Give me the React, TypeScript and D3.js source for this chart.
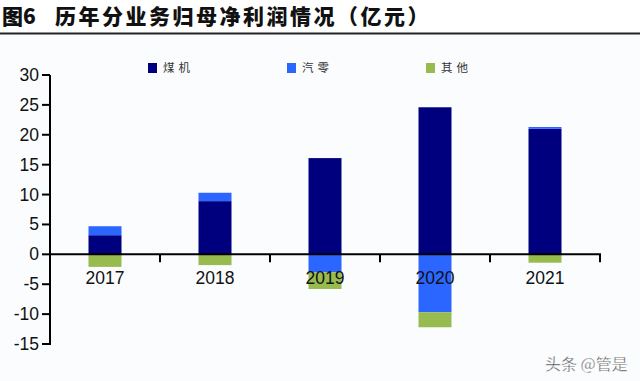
import React from "react";
import * as d3 from "d3";

const years = ["2017", "2018", "2019", "2020", "2021"];
const coal = [3.2, 8.9, 16.1, 24.6, 21.0];
const auto = [1.5, 1.4, -3.0, -9.7, 0.3];
const other = [-2.1, -1.8, -2.8, -2.5, -1.4];
const seriesNames = ["煤机", "汽零", "其他"];
const seriesColors = ["#00007f", "#2a66ff", "#98bb4f"];
const yTicks = [30, 25, 20, 15, 10, 5, 0, -5, -10, -15];

const W = 640;
const H = 381;

export default function App() {
  const x = d3.scaleBand<string>().domain(years).range([50, 600]).paddingInner(0.7).paddingOuter(0.35);
  const xb = d3.scaleBand<string>().domain(years).range([50, 600]);
  const y = d3.scaleLinear().domain([-15, 30]).range([344, 75]);

  const seriesData = [coal, auto, other];
  const rects: any[] = [];
  years.forEach((yr, i) => {
    let pos = 0;
    let neg = 0;
    seriesData.forEach((s, si) => {
      const v = s[i];
      let y0, y1;
      if (v >= 0) {
        y0 = pos;
        y1 = pos + v;
        pos = y1;
      } else {
        y0 = neg;
        y1 = neg + v;
        neg = y1;
      }
      rects.push(
        <rect
          key={yr + si}
          x={x(yr)}
          width={x.bandwidth()}
          y={y(Math.max(y0, y1))}
          height={Math.abs(y(y0) - y(y1))}
          fill={seriesColors[si]}
        />
      );
    });
  });

  const legendX = [148, 287, 426];

  return (
    <svg width={W} height={H} style={{ display: "block", position: "absolute", left: 0, top: 0, background: "#fbfcfe" }}>
      <rect x={0} y={0} width={W} height={34} fill="#ffffff" />
      <text x={2} y={24} fontFamily="'Noto Sans CJK SC', sans-serif" fontWeight="900" fontSize={21} fill="#111">
        图6
      </text>
      <text x={55} y={24} fontFamily="'Noto Sans CJK SC', sans-serif" fontWeight="900" fontSize={21} letterSpacing={2.5} fill="#111">
        历年分业务归母净利润情况（亿元）
      </text>
      <line x1={0} x2={W} y1={33.5} y2={33.5} stroke="#222" strokeWidth={2} />

      {seriesNames.map((n, i) => (
        <g key={n}>
          <rect x={legendX[i]} y={63} width={9} height={10} fill={seriesColors[i]} />
          <text
            x={legendX[i] + 15}
            y={72}
            fontFamily="'Noto Sans CJK SC', serif"
            fontSize={11.5}
            letterSpacing={4}
            fill="#333"
          >
            {n}
          </text>
        </g>
      ))}

      {rects}

      <line x1={50} x2={50} y1={75} y2={345} stroke="#000" strokeWidth={2} />
      {yTicks.map((t) => (
        <g key={t}>
          <line x1={42} x2={50} y1={y(t)} y2={y(t)} stroke="#000" strokeWidth={2} />
          <text
            x={39}
            y={y(t) + 6}
            textAnchor="end"
            fontFamily="'Liberation Sans', Arial, sans-serif"
            fontSize={17.5}
            fill="#111"
          >
            {t}
          </text>
        </g>
      ))}

      <line x1={49} x2={601} y1={y(0)} y2={y(0)} stroke="#000" strokeWidth={2} />
      {years.slice(1).concat(["end"]).map((yr, i) => {
        const xp = i < 4 ? (xb(years[i + 1]) as number) : 600;
        return <line key={yr + "t"} x1={xp} x2={xp} y1={y(0)} y2={y(0) + 8} stroke="#000" strokeWidth={2} />;
      })}
      {years.map((yr) => (
        <text
          key={yr + "l"}
          x={(xb(yr) as number) + xb.bandwidth() / 2}
          y={284}
          textAnchor="middle"
          fontFamily="'Liberation Sans', Arial, sans-serif"
          fontSize={17.5}
          fill="#111"
        >
          {yr}
        </text>
      ))}

      <text x={545} y={370} fontFamily="'Noto Sans CJK SC', sans-serif" fontSize={16} fill="#444" stroke="#fff" strokeWidth={0.4}>
        头条 @管是
      </text>
    </svg>
  );
}
